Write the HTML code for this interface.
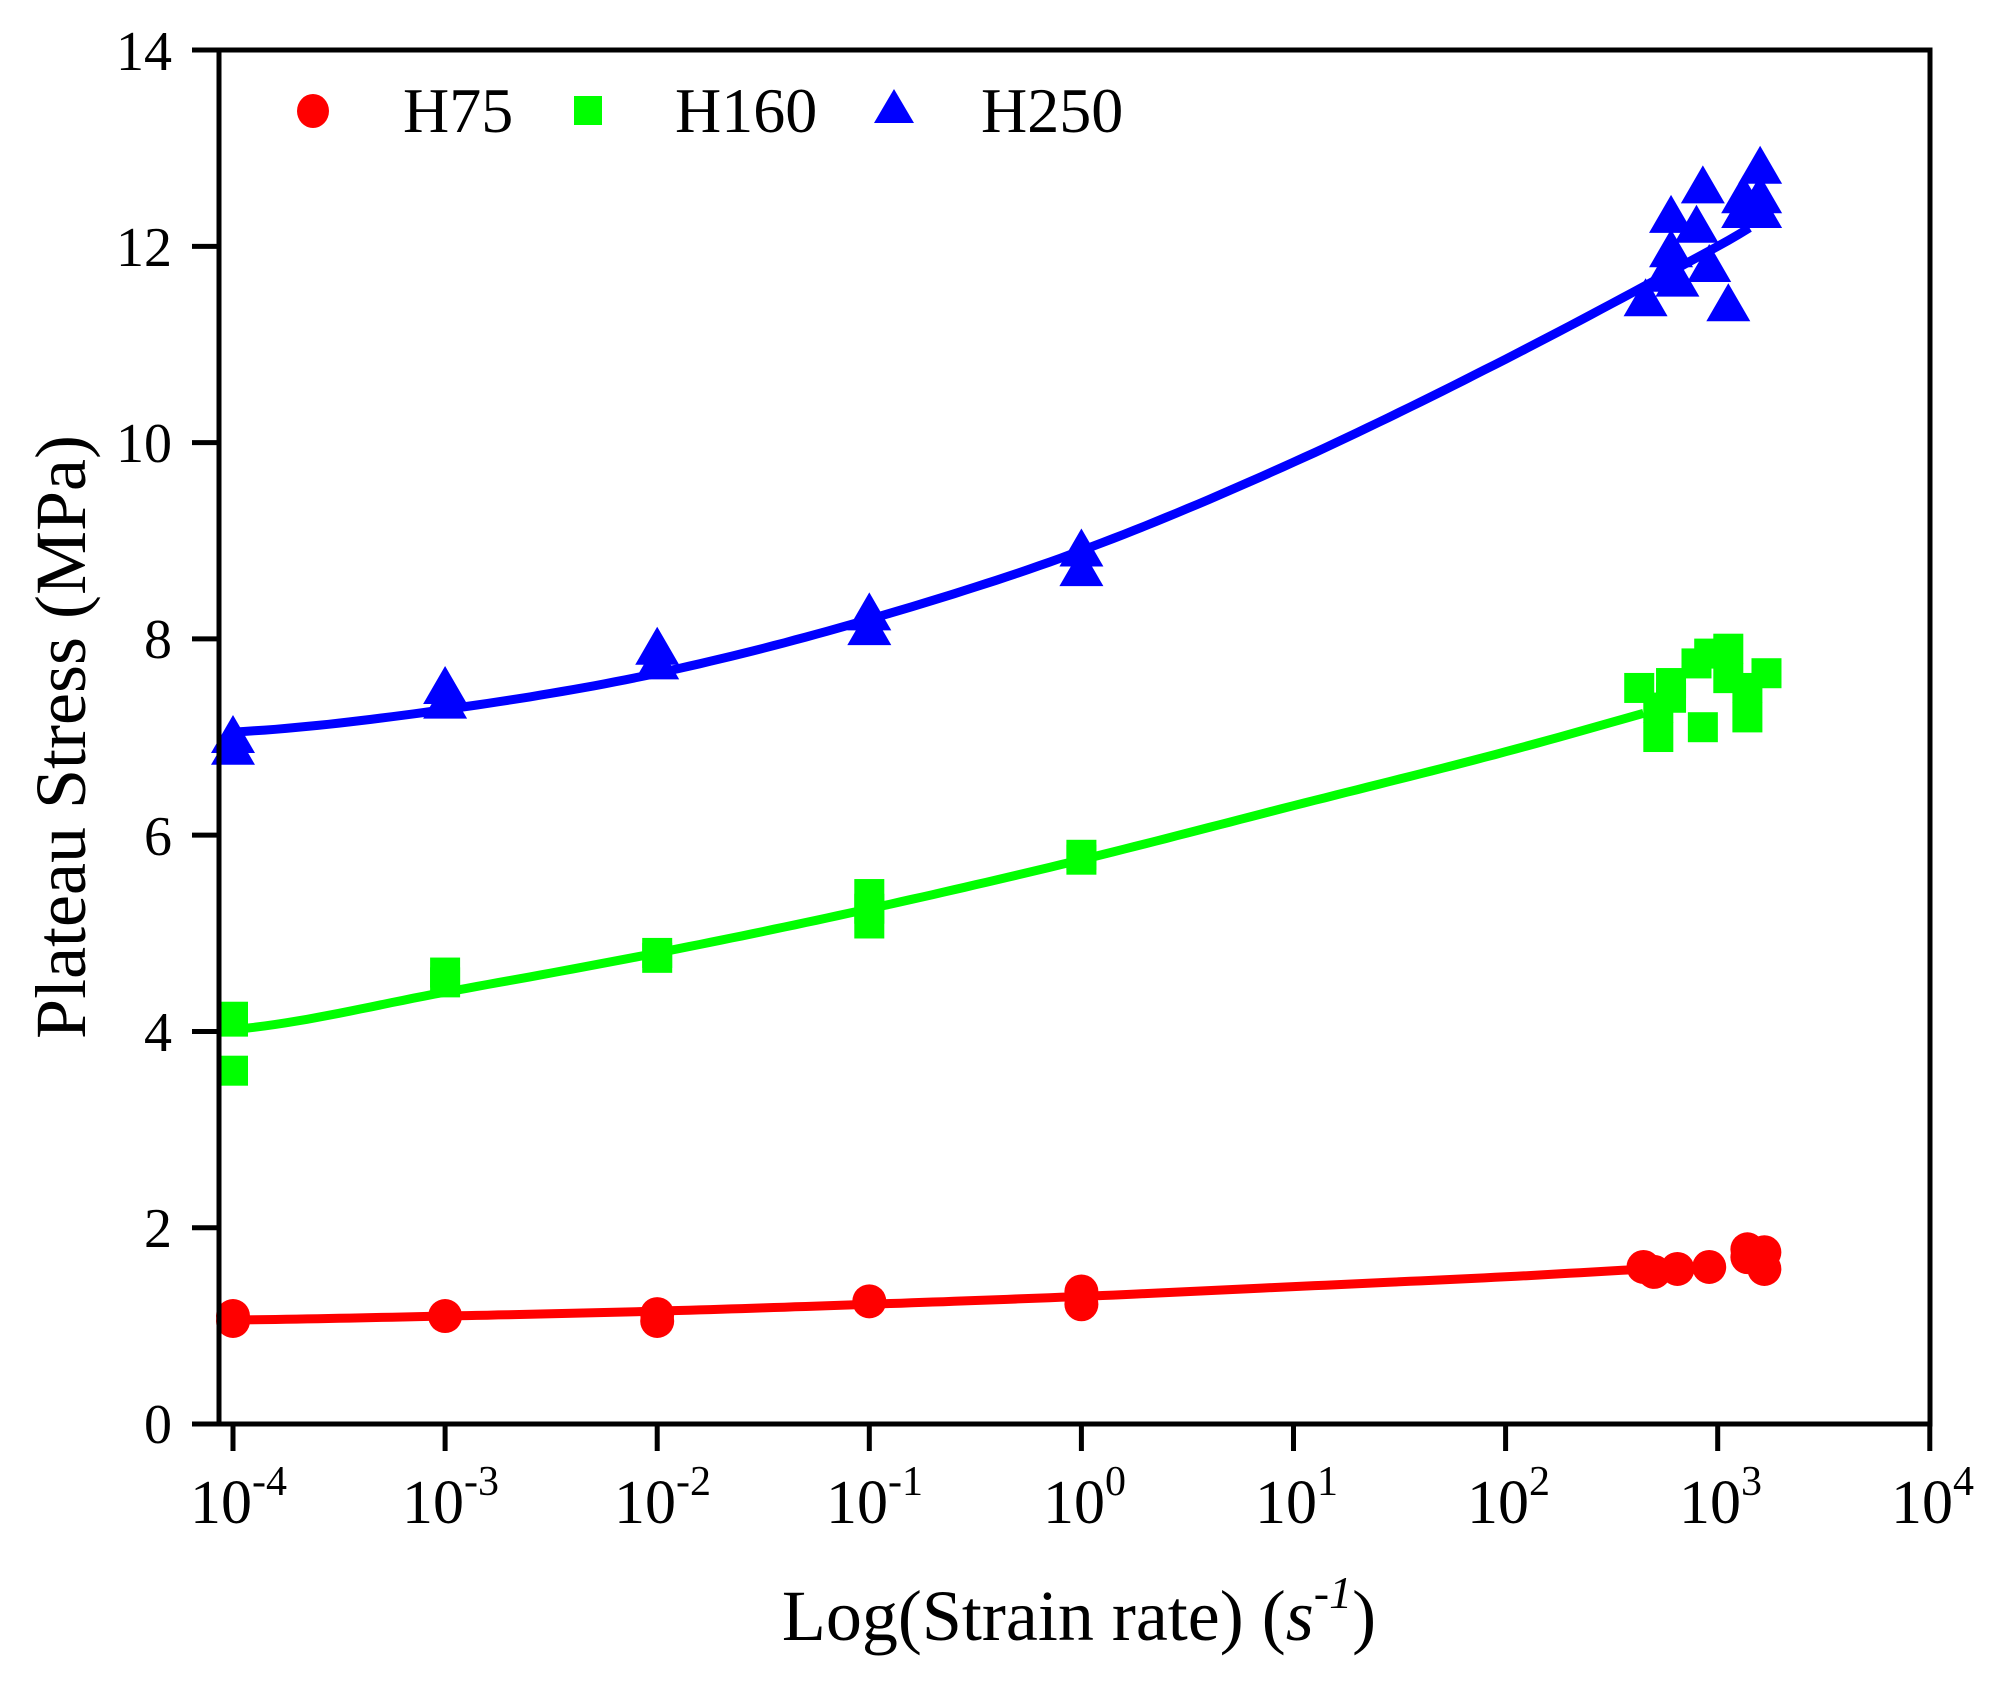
<!DOCTYPE html>
<html><head><meta charset="utf-8"><style>
html,body{margin:0;padding:0;background:#fff;}
svg{display:block;font-family:"Liberation Serif",serif;}
</style></head><body>
<svg width="1997" height="1684" viewBox="0 0 1997 1684" xmlns="http://www.w3.org/2000/svg">
<rect width="1997" height="1684" fill="#fff"/>
<g id="plot"></g>
<g stroke="#000" stroke-width="5" fill="none">
<rect x="219" y="50" width="1711" height="1374"/>
</g>
<g id="ticks" stroke="#000" stroke-width="5"></g>
<g font-size="56" text-anchor="end" fill="#000">
<text x="172" y="1443">0</text><text x="172" y="1247">2</text><text x="172" y="1051">4</text>
<text x="172" y="855">6</text><text x="172" y="658">8</text><text x="172" y="462">10</text>
<text x="172" y="266">12</text><text x="172" y="70">14</text>
</g>
<g font-size="62" fill="#000">
<text x="190" y="1523">10<tspan font-size="42" dy="-28">-4</tspan></text>
<text x="402" y="1523">10<tspan font-size="42" dy="-28">-3</tspan></text>
<text x="614" y="1523">10<tspan font-size="42" dy="-28">-2</tspan></text>
<text x="826" y="1523">10<tspan font-size="42" dy="-28">-1</tspan></text>
<text x="1043" y="1523">10<tspan font-size="42" dy="-28">0</tspan></text>
<text x="1255" y="1523">10<tspan font-size="42" dy="-28">1</tspan></text>
<text x="1467" y="1523">10<tspan font-size="42" dy="-28">2</tspan></text>
<text x="1679" y="1523">10<tspan font-size="42" dy="-28">3</tspan></text>
<text x="1891" y="1523">10<tspan font-size="42" dy="-28">4</tspan></text>
</g>
<text x="0" y="0" font-size="72" text-anchor="middle" transform="translate(85,737) rotate(-90)">Plateau Stress (MPa)</text>
<text x="1079" y="1640" font-size="72" text-anchor="middle">Log(Strain rate) (<tspan font-style="italic">s</tspan><tspan font-style="italic" font-size="46" dy="-32">-1</tspan><tspan dy="32">)</tspan></text>
<g font-size="64" fill="#000">
<ellipse cx="313" cy="111" rx="16" ry="17" fill="#f00"/>
<text x="403" y="132">H75</text>
<rect x="574" y="96" width="28" height="29" fill="#0f0"/>
<text x="675" y="132">H160</text>
<polygon points="894,89 874,123 914,123" fill="#00f"/>
<text x="981" y="132">H250</text>
</g>
<script>
var X=function(l){return 233+212.1*(l+4);};
var Y=function(v){return 1424-98.14*v;};
var g=document.getElementById('plot'),ns='http://www.w3.org/2000/svg';
function el(n,a){var e=document.createElementNS(ns,n);for(var k in a)e.setAttribute(k,a[k]);g.appendChild(e);return e;}
function curve(pts,c){var d='';pts.forEach(function(p,i){d+=(i?'L':'M')+X(p[0]).toFixed(1)+' '+Y(p[1]).toFixed(1);});el('path',{d:d,stroke:c,'stroke-width':9,fill:'none','stroke-linejoin':'round'});}
function smooth(kn,end){var out=[];for(var l=-4;l<=end+1e-9;l+=0.05){var i=Math.min(Math.floor(l+4),kn.length-2);var t=l+4-i;var p0=kn[Math.max(i-1,0)],p1=kn[i],p2=kn[i+1],p3=kn[Math.min(i+2,kn.length-1)];var v=0.5*((2*p1)+(-p0+p2)*t+(2*p0-5*p1+4*p2-p3)*t*t+(-p0+3*p1-3*p2+p3)*t*t*t);out.push([l,v]);}return out;}
curve(smooth([7.05,7.28,7.65,8.2,8.9,9.8,10.85,12.0,13.2],3.17),'#00f');
curve(smooth([4.02,4.4,4.8,5.25,5.75,6.3,6.85,7.45,8.0],2.68),'#0f0');
curve(smooth([1.06,1.1,1.15,1.22,1.3,1.4,1.5,1.62,1.72],2.68),'#f00');
function tri(l,v){var x=X(l),y=Y(v);el('polygon',{points:(x)+','+(y-22)+' '+(x-22)+','+(y+16)+' '+(x+22)+','+(y+16),fill:'#00f'});}
function sq(l,v){var x=X(l),y=Y(v);el('rect',{x:x-15,y:y-15,width:30,height:30,fill:'#0f0'});}
function ci(l,v){el('circle',{cx:X(l),cy:Y(v),r:17,fill:'#f00'});}
[[-4,7.0],[-4,6.88],[-3,7.5],[-3,7.35],[-2,7.9],[-2,7.75],[-1,8.25],[-1,8.1],[0,8.9],[0,8.7],
[2.66,11.45],[2.75,11.7],[2.78,12.3],[2.78,11.95],[2.81,11.65],[2.9,12.2],[2.93,12.6],[2.96,11.8],[3.05,11.4],[3.12,12.5],[3.12,12.35],[3.2,12.8],[3.2,12.5],[3.2,12.35]].forEach(function(p){tri(p[0],p[1]);});
[[-4,4.1],[-4,4.15],[-4,3.6],[-3,4.6],[-3,4.5],[-2,4.75],[-2,4.8],[-1,5.4],[-1,5.1],[-1,5.25],[0,5.75],[0,5.8],
[2.63,7.5],[2.72,7.0],[2.72,7.3],[2.78,7.55],[2.78,7.4],[2.9,7.75],[2.93,7.1],[2.96,7.85],[3.05,7.9],[3.05,7.6],[3.14,7.2],[3.14,7.5],[3.23,7.65]].forEach(function(p){sq(p[0],p[1]);});
[[-4,1.1],[-4,1.05],[-3,1.1],[-2,1.12],[-2,1.05],[-1,1.25],[0,1.35],[0,1.22],
[2.65,1.6],[2.7,1.55],[2.81,1.58],[2.96,1.6],[3.14,1.78],[3.14,1.7],[3.22,1.75],[3.22,1.58]].forEach(function(p){ci(p[0],p[1]);});
var tk=document.getElementById('ticks');
for(var i=0;i<=14;i+=2){var l=document.createElementNS(ns,'line');l.setAttribute('x1',192);l.setAttribute('x2',219);l.setAttribute('y1',Y(i));l.setAttribute('y2',Y(i));tk.appendChild(l);}
for(var e=-4;e<=4;e++){var x=X(e);var l=document.createElementNS(ns,'line');l.setAttribute('x1',x);l.setAttribute('x2',x);l.setAttribute('y1',1424);l.setAttribute('y2',1451);tk.appendChild(l);}
</script>
</svg>
</body></html>
